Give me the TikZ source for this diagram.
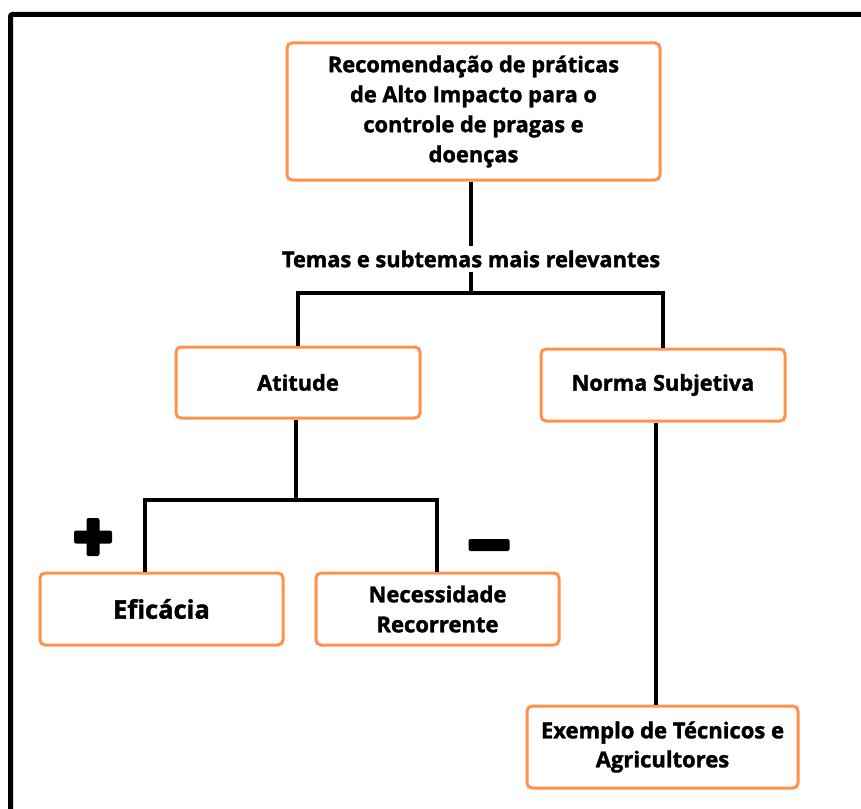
\documentclass[tikz,border=0pt]{standalone}
\usepackage{fontspec}
\setmainfont{Open Sans}[BoldFeatures={FakeBold=1.6}]
\definecolor{boxorange}{HTML}{FF914D}

\tikzset{
  box/.style={draw=boxorange, line width=3pt, rounded corners=5pt, fill=white,
    align=center, inner sep=0pt, font=\bfseries\fontsize{21.8}{30}\selectfont},
  link/.style={black, line width=4pt},
  sign/.style={fill=black, draw=none, rounded corners=2pt}
}

\begin{document}
\begin{tikzpicture}[x=1pt, y=-1pt]
      \useasboundingbox (0,0) rectangle (861,808);
      \draw[black, line width=5pt, rounded corners=2pt] (10.5,810) -- (10.5,14.5) -- (865,14.5);

      \node[box, minimum width=373pt, minimum height=137pt] (top) at (473.5,111.5)
        {Recomendação de práticas\\de Alto Impacto para o\\controle de pragas e\\doenças};
      \node[font=\bfseries\fontsize{21.8}{24}\selectfont, inner xsep=0pt, inner ysep=4pt] (topics) at (471,259)
        {Temas e subtemas mais relevantes};

      \node[box, minimum width=244pt, minimum height=71pt] (atitude) at (298,382.5) {Atitude};
      \node[box, minimum width=244pt, minimum height=72pt] (norma) at (663,385) {Norma Subjetiva};

      \node[box, minimum width=243pt, minimum height=72pt, font=\bfseries\fontsize{25.5}{30}\selectfont] (eficacia) at (161.5,609) {Eficácia};
      \node[box, minimum width=243pt, minimum height=72pt, font=\bfseries\fontsize{22}{30}\selectfont] (necessidade) at (437.5,609) {Necessidade\\Recorrente};
      \node[box, minimum width=271pt, minimum height=82pt, font=\bfseries\fontsize{22}{29}\selectfont] (exemplo) at (662.5,747) {Exemplo de Técnicos e\\Agricultores};

      % ligacoes
      \coordinate (split1) at (471,293);
      \coordinate (split2) at (296,500);
      \coordinate (dropleft) at (145,500);
      \coordinate (dropright) at (437,500);
      \draw[link] (top.south -| topics) -- (topics.north);
      \draw[link] (topics.south) -- (split1);
      \draw[link] (atitude.north) |- (split1) -| (norma.north);
      \draw[link] (atitude.south -| split2) -- (split2);
      \draw[link] (dropleft |- eficacia.north) -- (dropleft) -- (dropright) -- (dropright |- necessidade.north);
      \draw[link] (norma.south -| 656,0) -- (exemplo.north -| 656,0);

      % sinais
      \fill[sign] (74,530.5) rectangle (112,543.5);
      \fill[sign] (86.5,518) rectangle (99.5,556);
      \fill[sign] (468.5,539) rectangle (509.5,551);
    \end{tikzpicture}
\end{document}
